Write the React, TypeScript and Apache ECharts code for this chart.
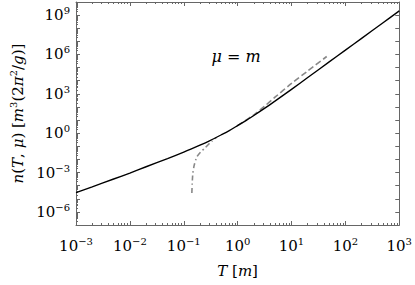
import React, { useEffect, useRef } from 'react';
import * as echarts from 'echarts';

// Exact density n(T, mu=m)
const temperature = [1e-3, 2e-3, 5e-3, 1e-2, 2e-2, 5e-2, 0.1, 0.2, 0.3, 0.5, 0.7, 1, 1.5, 2, 3, 5, 10, 20, 50, 100, 200, 500, 1000];
const density = [2.9e-5, 8.1e-5, 3.2e-4, 9.1e-4, 2.75e-3, 0.0115, 0.036, 0.123, 0.263, 0.76, 1.58, 3.8, 10.5, 22.4, 67.6, 288, 2190, 1.74e4, 2.7e5, 2.14e6, 1.7e7, 2.63e8, 2.09e9];

// Low-temperature approximation (dash-dot)
const lowTemperature = [0.1413, 0.1435, 0.1472, 0.156, 0.174, 0.205, 0.252, 0.333, 0.4];
const lowDensity = [2.75e-5, 1.4e-4, 8.3e-4, 3.5e-3, 0.015, 0.036, 0.08, 0.25, 0.45];

// High-temperature approximation (dashed)
const highTemperature = [1, 2, 3, 5, 10, 20, 45];
const highDensity = [3.8, 25, 95, 575, 6200, 5.5e4, 7e5];

const xTickExponents = [-3, -2, -1, 0, 1, 2, 3];
const yLabelStep = 3;

const FONT = 'DejaVu Serif';
const AXIS_COLOR = '#666';

const pairs = (xs: number[], ys: number[]) => xs.map((x, i) => [x, ys[i]]);

const expLabel = (v: number) => {
  const e = Math.round(Math.log10(v));
  const s = e < 0 ? '\u2212' + Math.abs(e) : String(e);
  return `{b|10}{s|${s}}`;
};

const labelRich = {
  b: { fontSize: 15, fontFamily: FONT, color: '#000' },
  s: { fontSize: 10, fontFamily: FONT, color: '#000', padding: [0, 0, 9, 0] },
};

const nameRich = {
  i: { fontSize: 15, fontFamily: FONT, fontStyle: 'italic', color: '#000' },
  r: { fontSize: 15, fontFamily: FONT, color: '#000' },
  s: { fontSize: 10, fontFamily: FONT, color: '#000', padding: [0, 0, 9, 0] },
};

const tickStyle = (minor: boolean) => ({
  axisLine: { onZero: false, lineStyle: { color: AXIS_COLOR, width: 1 } },
  axisTick: { inside: true, length: 4, lineStyle: { color: AXIS_COLOR, width: 1 } },
  minorTick: { show: minor, splitNumber: 9, length: 2, lineStyle: { color: AXIS_COLOR, width: 1 } },
  splitLine: { show: false },
  minorSplitLine: { show: false },
});

export default function App() {
  const ref = useRef<HTMLDivElement>(null);
  useEffect(() => {
    if (!ref.current) return;
    const chart = echarts.init(ref.current, null, { renderer: 'svg' });
    const option: any = {
      animation: false,
      backgroundColor: '#fff',
      textStyle: { fontFamily: FONT },
      grid: { left: 70, right: 12, top: 2, bottom: 60, containLabel: false },
      xAxis: [
        {
          type: 'log', logBase: 10, min: 1e-3, max: 1e3, interval: 1, position: 'bottom',
          ...tickStyle(true),
          axisLabel: {
            margin: 11,
            fontFamily: FONT,
            fontSize: 15,
            formatter: (v: number) => {
              const e = Math.round(Math.log10(v));
              return xTickExponents.includes(e) ? expLabel(v) : '';
            },
            rich: labelRich,
          },
          name: '{i|T} {r|[}{i|m}{r|]}',
          nameLocation: 'middle',
          nameGap: 38,
          nameTextStyle: { fontFamily: FONT, fontSize: 15, rich: nameRich },
        },
        {
          type: 'log', logBase: 10, min: 1e-3, max: 1e3, interval: 1, position: 'top',
          ...tickStyle(true),
          axisLabel: { show: false },
        },
      ],
      yAxis: [
        {
          type: 'log', logBase: 10, min: 1e-7, max: 1e10, interval: 1, position: 'left',
          ...tickStyle(true),
          axisLabel: {
            margin: 6,
            fontFamily: FONT,
            fontSize: 15,
            formatter: (v: number) => {
              const e = Math.round(Math.log10(v));
              return e % yLabelStep === 0 ? expLabel(v) : '';
            },
            rich: labelRich,
          },
          name: '{i|n}{r|(}{i|T}{r|, }{i|\u03bc}{r|) [}{i|m}{s|3}{r|(2}{i|\u03c0}{s|2}{r|/}{i|g}{r|)]}',
          nameLocation: 'middle',
          nameRotate: 90,
          nameGap: 49,
          nameTextStyle: { fontFamily: FONT, fontSize: 15, rich: nameRich },
        },
        {
          type: 'log', logBase: 10, min: 1e-7, max: 1e10, interval: 1, position: 'right',
          ...tickStyle(false),
          axisLabel: { show: false },
        },
      ],
      series: [
        {
          type: 'line', data: pairs(highTemperature, highDensity), showSymbol: false, smooth: 0.3,
          lineStyle: { color: '#888', width: 1.6, type: [6, 3] }, z: 2,
        },
        {
          type: 'line', data: pairs(lowTemperature, lowDensity), showSymbol: false, smooth: 0.2,
          lineStyle: { color: '#888', width: 1.6, type: [5, 3, 1.5, 3] }, z: 2,
        },
        {
          type: 'line', data: pairs(temperature, density), showSymbol: false, smooth: 0.3,
          lineStyle: { color: '#000', width: 1.4 }, z: 3,
        },
      ],
      graphic: [
        {
          type: 'text', x: 236, y: 56,
          style: {
            text: '{i|\u03bc} {r|=} {i|m}',
            align: 'center', verticalAlign: 'middle',
            fontFamily: FONT,
            fontSize: 16,
            rich: {
              i: { fontSize: 16, fontFamily: FONT, fontStyle: 'italic', fill: '#000' },
              r: { fontSize: 16, fontFamily: FONT, fill: '#000' },
            },
          },
        },
      ],
    };
    chart.setOption(option);
    return () => chart.dispose();
  }, []);
  return (
    <div
      ref={ref}
      style={{ position: 'fixed', left: 0, top: 0, width: 415, height: 285 }}
    />
  );
}
